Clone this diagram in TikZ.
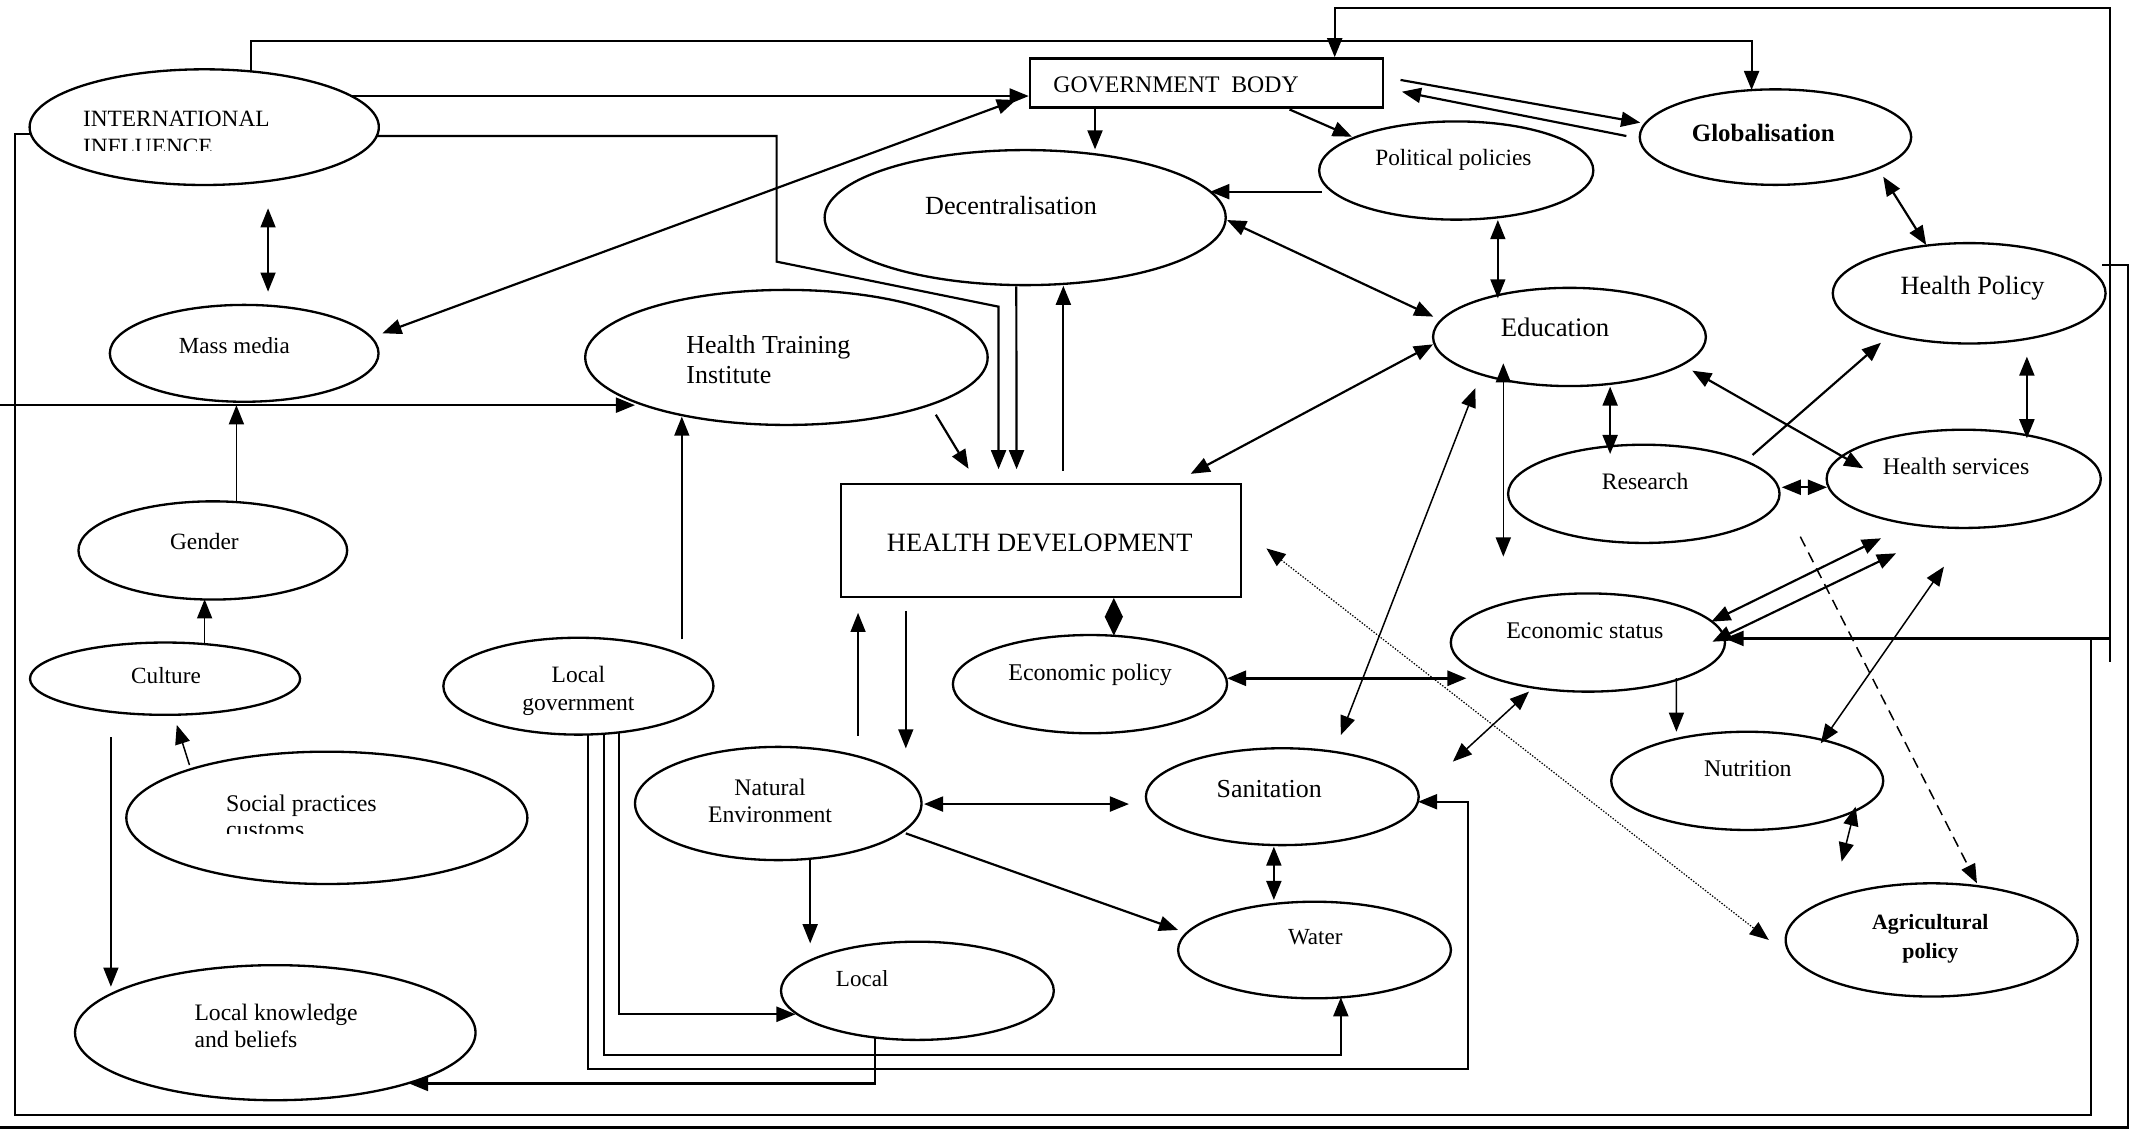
\documentclass[tikz,border=0pt]{standalone}
\usepackage{fontspec}
\setmainfont{Liberation Serif}
\usetikzlibrary{shapes.geometric,arrows.meta,calc}
\newcommand\lsz[1]{\fontsize{#1pt}{#1pt}\selectfont}

\begin{document}
\begin{tikzpicture}[x=1pt,y=-1pt,
  >={Triangle[length=14pt,width=11pt]},
  ov/.style n args={2}{ellipse,draw,line width=1.7pt,inner sep=0pt,
     minimum width=#1pt,minimum height=#2pt},
  box/.style n args={2}{rectangle,draw,line width=1.7pt,inner sep=0pt,
     minimum width=#1pt,minimum height=#2pt},
  lbl/.style={inner sep=0pt,anchor=base west},
  lblc/.style={inner sep=0pt,anchor=base},
  con/.style={line width=1.6pt},
  heavy/.style={line width=2.2pt},
  fine/.style={line width=1.1pt},
  dsh/.style={line width=1.1pt,dash pattern=on 8pt off 5pt},
  dtt/.style={line width=0.9pt,dash pattern=on 1pt off 1.2pt}]

\useasboundingbox (0,0) rectangle (1568,831);
\fill[white] (0,0) rectangle (1568,831);

% ---------- shapes ----------
\node[ov={256}{84.8}]  (intl)    at (149.7,93.2) {};
\node[box={259}{35.9}] (gov)     at (884.5,60.75) {};
\node[ov={197}{71}]    (mass)    at (179,259) {};
\node[ov={295}{99}]    (hti)     at (576.5,262) {};
\node[ov={294}{99}]    (dec)     at (751.5,159.5) {};
\node[ov={201}{72}]    (pp)      at (1067.5,125) {};
\node[ov={199}{70}]    (glob)    at (1301.5,100.5) {};
\node[ov={200}{73.6}]  (hp)      at (1443.5,215) {};
\node[ov={200}{72}]    (edu)     at (1150.5,247) {};
\node[ov={199}{72}]    (res)     at (1205,362) {};
\node[ov={201}{72}]    (hs)      at (1439.5,351) {};
\node[ov={201}{72}]    (es)      at (1164,471) {};
\node[box={293.2}{82.6}] (hd)    at (763.2,396.1) {};
\node[ov={201}{72}]    (ep)      at (799,501.5) {};
\node[ov={198}{71}]    (lg)      at (424,503) {};
\node[ov={197}{72}]    (gender)  at (156,403.5) {};
\node[ov={198}{53}]    (culture) at (121,497.5) {};
\node[ov={294}{97}]    (social)  at (239.6,599.5) {};
\node[ov={293.6}{99}]  (lkb)     at (201.8,757) {};
\node[ov={210}{83}]    (ne)      at (570.5,589) {};
\node[ov={200}{71}]    (san)     at (940,584) {};
\node[ov={200}{70.8}]  (water)   at (963.6,696.4) {};
\node[ov={200}{72}]    (local)   at (672.5,726.3) {};
\node[ov={199.4}{72}]  (nut)     at (1280.8,572.4) {};
\node[ov={214}{83}]    (agri)    at (1416,689) {};

% ---------- texts ----------
\node[lbl] (t-intl) at (60.7,92.4) {\lsz{17.1}INTERNATIONAL};
\begin{scope}
  \clip (0,0) rectangle (400,110);
  \node[lbl] (t-intl2) at (60.7,113) {\lsz{17.1}INFLUENCE};
\end{scope}
\node[lbl] (t-gov) at (772,68) {\lsz{17.4}GOVERNMENT\hspace{0.5em}BODY};
\node[lbl] (t-mass) at (131,259) {\lsz{16.9}Mass media};
\node[lbl] (t-hti1) at (503,258.8) {\lsz{19}Health Training};
\node[lbl] (t-hti2) at (503,280.9) {\lsz{19}Institute};
\node[lbl] (t-dec) at (678,156.9) {\lsz{19.2}Decentralisation};
\node[lbl] (t-pp) at (1008,121) {\lsz{17.1}Political policies};
\node[lbl] (t-glob) at (1240,103.9) {\lsz{18.3}\bfseries Globalisation};
\node[lbl] (t-hp) at (1393,216) {\lsz{19.3}Health Policy};
\node[lbl] (t-edu) at (1100,246.8) {\lsz{19.6}Education};
\node[lbl] (t-res) at (1174,358.7) {\lsz{17.3}Research};
\node[lbl] (t-hs) at (1380,348) {\lsz{17.5}Health services};
\node[lbl] (t-es) at (1104,467.8) {\lsz{17.5}Economic status};
\node[lbl] (t-hd) at (650,404.4) {\lsz{19.4}HEALTH DEVELOPMENT};
\node[lbl] (t-ep) at (739,498.5) {\lsz{17.6}Economic policy};
\node[lblc] (t-lg1) at (424,500.4) {\lsz{17.2}Local};
\node[lblc] (t-lg2) at (424,520.5) {\lsz{17.2}government};
\node[lbl] (t-gender) at (124.5,402.7) {\lsz{17.1}Gender};
\node[lbl] (t-culture) at (96,501) {\lsz{17}Culture};
\node[lbl] (t-soc1) at (165.6,595) {\lsz{17.5}Social practices};
\begin{scope}
  \clip (0,0) rectangle (400,611);
  \node[lbl] (t-soc2) at (165.6,613.8) {\lsz{17.5}customs};
\end{scope}
\node[lbl] (t-lkb1) at (142.4,747.7) {\lsz{17.3}Local knowledge};
\node[lbl] (t-lkb2) at (142.4,768) {\lsz{17.3}and beliefs};
\node[lblc] (t-ne1) at (564.5,582.8) {\lsz{17.4}Natural};
\node[lblc] (t-ne2) at (564.5,603) {\lsz{17.4}Environment};
\node[lbl] (t-san) at (891.7,584.5) {\lsz{19}Sanitation};
\node[lbl] (t-water) at (944,692.2) {\lsz{16.9}Water};
\node[lbl] (t-local) at (612.6,723.3) {\lsz{16.9}Local};
\node[lbl] (t-nut) at (1249,569.3) {\lsz{17.5}Nutrition};
\node[lblc] (t-agri1) at (1415,681.7) {\lsz{16}\bfseries Agricultural};
\node[lblc] (t-agri2) at (1415,702.5) {\lsz{16}\bfseries policy};

% ---------- routing corners ----------
\coordinate (topright) at (1547,6.1);
\coordinate (lefttop) at (11,98);
\coordinate (leftbot) at (11,817.5);
\coordinate (innerbot) at (1533,817.5);
\coordinate (innerup) at (1533,468);
\coordinate (outerhp) at (1560,194.5);
\coordinate (outerbot) at (1560,826.5);
\coordinate (leftexit) at (0,826.5);
\coordinate (leftentry) at (0,297);
\coordinate (sanbend) at (1076.4,783.9);

% ---------- long routed connectors ----------
\draw[con,->] ($(intl)+(34.3,-40.8)$) |- ($(glob)+(-17.5,-70.7)$) -- ($(glob)+(-17.5,-34.5)$);
\draw[con,<->] ($(gov.north)+(93.9,0)$) |- (topright) |- ($(es)+(100.2,-3)$);
\draw[con] (1547,468) -- (1547,485);
\draw[con] ($(intl)+(-127.2,4.8)$) -- (lefttop) -- (leftbot) -- (innerbot) -- (innerup);
\draw[con] ($(hp)+(97.5,-20.5)$) -- (outerhp) -- (outerbot) -- (leftexit);
\draw[con,->] (leftentry) -- ($(hti)+(-111,35)$);
\draw[con,->] ($(intl)+(126.5,6.5)$) -- (569.3,99.7) -- (569.3,191.8) -- (732,224.8) -- ($(hd.north)+(-31.2,-10)$);

% ---------- government body ----------
\draw[con,->] ($(intl)+(107.9,-22.8)$) -- ($(gov.west)+(0,9.65)$);
\draw[con,->] ($(gov.south)+(-81.8,0)$) -- ($(dec)+(51.2,-50)$);
\draw[con,->] ($(gov.south)+(60.8,0.7)$) -- ($(pp)+(-76.5,-24.8)$);
\draw[con,->] ($(gov.east)+(11.8,-2.15)$) -- ($(glob)+(-99.1,-10.6)$);
\draw[con,->] ($(glob)+(-109.3,-0.8)$) -- ($(gov.east)+(12.8,6.45)$);
\draw[con,<->] ($(mass)+(101.3,-14.7)$) -- ($(gov.west)+(-9.4,12.55)$);

% ---------- decentralisation / health development ----------
\draw[con,->] ($(dec.south)+(-6.5,0)$) -- ($(hd.north)+(-18,-10)$);
\draw[con,->] ($(hd.north)+(16.3,-9)$) -- ($(dec)+(28,50)$);
\draw[con,->] ($(hti)+(109.5,42)$) -- ($(hd.north)+(-53.2,-10.3)$);
\draw[con,->] ($(pp)+(-98.5,15.5)$) -- ($(dec)+(135.7,-19)$);
\draw[con,<->] ($(dec)+(148,1.8)$) -- ($(edu)+(-99.8,-14.9)$);
\draw[con,<->] ($(edu)+(-100,5.4)$) -- ($(hd.north)+(109.6,-6.6)$);
\draw[con,{Triangle[length=14pt,width=13pt]}-{Triangle[length=14pt,width=13pt]}]
  ($(hd.south)+(53.3,0)$) -- ($(ep)+(17.5,-35.5)$);
\draw[fine,->] ($(ne)+(58.5,-49.5)$) -- ($(hd.south)+(-134.2,11)$);
\draw[fine,->] ($(hd.south)+(-99.2,9.6)$) -- ($(ne)+(93.5,-40.4)$);

% ---------- left column ----------
\draw[fine,<->] ($(intl)+(46.8,59.5)$) -- ($(mass)+(17.5,-45.2)$);
\draw[fine,->] ($(gender)+(17.3,-35.4)$) -- ($(mass)+(-5.7,38)$);
\draw[fine,->] ($(culture)+(29,-25.3)$) -- ($(gender)+(-6,35.8)$);
\draw[fine,->] ($(social)+(-100.7,-38.7)$) -- ($(culture)+(8.6,33.9)$);
\draw[fine,->] ($(culture)+(-39.7,43)$) -- ($(lkb)+(-120.5,-33.7)$);

% ---------- local government ----------
\draw[fine,->] ($(lg)+(75.8,-34.4)$) -- ($(hti)+(-76.7,43.4)$);
\draw[con,->] ($(lg)+(29.7,33.9)$) |- ($(local)+(-89.3,17.2)$);
\draw[con,->] ($(lg)+(18.9,34.8)$) |- ($(water)+(19.3,77)$) -- ($(water)+(19.3,34.7)$);
\draw[con,->] ($(lg)+(7.3,35.4)$) |- (sanbend) |- ($(san)+(99.5,3.7)$);
\draw[con,->] ($(local)+(-30.9,34.2)$) |- ($(lkb)+(98,37.2)$);

% ---------- natural environment ----------
\draw[con,<->] ($(ne.east)+(1,0.4)$) -- ($(san)+(-112.4,5.4)$);
\draw[con,->] ($(ne)+(93.5,21.9)$) -- ($(water)+(-100,-14.7)$);
\draw[fine,->] ($(ne)+(23.4,40.5)$) -- ($(local)+(-78.6,-34.8)$);
\draw[con,<->] ($(san)+(-6.2,36.6)$) -- ($(water)+(-29.8,-36.7)$);

% ---------- economy ----------
\draw[heavy,<->] ($(ep)+(100.5,-4.3)$) -- ($(es)+(-89,26.2)$);
\draw[fine,<->] ($(san)+(42.9,-45.2)$) -- ($(edu)+(-69,37.5)$);
\draw[fine,<->] ($(es)+(-43.2,36)$) -- ($(san)+(125,-25.7)$);
\draw[fine,->] ($(es)+(64.9,26)$) -- ($(nut)+(-51.9,-36)$);
\draw[con,<->] ($(es)+(90.5,-15.3)$) -- ($(hs)+(-60.6,43.6)$);
\draw[con,<->] ($(es)+(91.3,-0.6)$) -- ($(hs)+(-49.6,54.6)$);
\draw[fine,<->] ($(hs)+(-14.5,64.4)$) -- ($(nut)+(53.9,-27.5)$);
\draw[fine,<->] ($(nut)+(79.4,18.9)$) -- ($(agri)+(-66,-57.4)$);

% ---------- education, research, health ----------
\draw[fine,<->] ($(pp)+(30.5,36.3)$) -- ($(edu)+(-52.5,-28.3)$);
\draw[con,<->] ($(glob)+(79,29)$) -- ($(hp)+(-31.5,-35.4)$);
\draw[fine,<->] ($(edu)+(-48.5,19.3)$) -- ($(edu)+(-48.5,161)$);
\draw[con,<->] ($(edu)+(29.8,36.4)$) -- ($(res)+(-24.7,-29.2)$);
\draw[con,<->] ($(edu)+(90,24.7)$) -- ($(hs)+(-73.6,-7.7)$);
\draw[con,->] ($(res)+(79.7,-28.5)$) -- ($(hp)+(-64.6,36.2)$);
\draw[con,<->] ($(res)+(101.1,-4.8)$) -- ($(hs)+(-100.2,6.2)$);
\draw[con,<->] ($(hp)+(42.3,46.4)$) -- ($(hs)+(46.3,-29.7)$);

% ---------- policy links ----------
\draw[dsh,->] ($(res)+(114.7,31.4)$) -- ($(agri)+(33.2,-41.5)$);
\draw[dtt,<->] ($(hd.east)+(17.7,5.9)$) -- ($(agri)+(-119.4,0)$);

\end{tikzpicture}
\end{document}
